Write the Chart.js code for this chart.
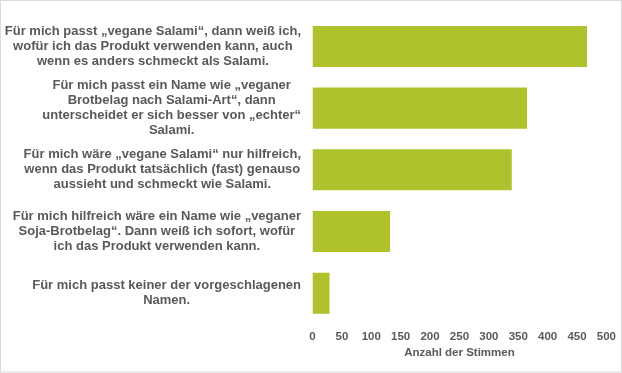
<!DOCTYPE html>
<html>
<head>
<meta charset="utf-8">
<script src="https://cdn.jsdelivr.net/npm/chart.js@4/dist/chart.umd.min.js"></script>
<style>
html,body{margin:0;padding:0;background:#fff;}
#wrap{width:622px;height:373px;position:relative;}
</style>
</head>
<body>
<div id="wrap"><canvas id="c" width="622" height="373"></canvas></div>
<script>
const categories = [
  ["Für mich passt „vegane Salami“, dann weiß ich,", "wofür ich das Produkt verwenden kann, auch", "wenn es anders schmeckt als Salami."],
  ["Für mich passt ein Name wie „veganer", "Brotbelag nach Salami-Art“, dann", "unterscheidet er sich besser von „echter“", "Salami."],
  ["Für mich wäre „vegane Salami“ nur hilfreich,", "wenn das Produkt tatsächlich (fast) genauso", "aussieht und schmeckt wie Salami."],
  ["Für mich hilfreich wäre ein Name wie „veganer", "Soja-Brotbelag“. Dann weiß ich sofort, wofür", "ich das Produkt verwenden kann."],
  ["Für mich passt keiner der vorgeschlagenen", "Namen."]
];
const votes = [467, 365, 339, 132, 29];
const xTicks = [0, 50, 100, 150, 200, 250, 300, 350, 400, 450, 500];
const axisTitle = "Anzahl der Stimmen";

const textColor = "#595959";
const barColor = "#afc22e";

const labelPlugin = {
  id: 'centeredLabels',
  afterDraw(chart) {
    const ctx = chart.ctx;
    const y = chart.scales.y;
    ctx.save();
    ctx.font = 'bold 13px "Liberation Sans", Arial, sans-serif';
    ctx.fillStyle = textColor;
    ctx.textAlign = 'center';
    ctx.textBaseline = 'middle';
    const rightEdge = 301;
    const lh = 14.9;
    categories.forEach((lines, i) => {
      const cy = y.getPixelForTick(i);
      const widest = Math.max(...lines.map(l => ctx.measureText(l).width));
      const cx = rightEdge - widest / 2;
      lines.forEach((l, j) => {
        ctx.fillText(l, cx, cy + (j - (lines.length - 1) / 2) * lh);
      });
    });
    ctx.restore();
  }
};

const borderPlugin = {
  id: 'frame',
  afterDraw(chart) {
    const ctx = chart.ctx;
    ctx.save();
    ctx.strokeStyle = '#d9d9d9';
    ctx.lineWidth = 1;
    ctx.strokeRect(0.5, 0.5, chart.width - 1, chart.height - 1.5);
    ctx.restore();
  }
};

new Chart(document.getElementById('c'), {
  type: 'bar',
  data: {
    labels: categories,
    datasets: [{
      data: votes,
      backgroundColor: barColor,
      borderWidth: 0,
      categoryPercentage: 1,
      barPercentage: 0.665
    }]
  },
  options: {
    indexAxis: 'y',
    responsive: false,
    animation: false,
    devicePixelRatio: 1,
    layout: { padding: { top: 15.6, right: 15, bottom: 0, left: 0 } },
    plugins: { legend: { display: false }, tooltip: { enabled: false } },
    scales: {
      x: {
        type: 'linear',
        min: 0,
        max: 500,
        afterBuildTicks(s) { s.ticks = xTicks.map(v => ({ value: v })); },
        afterFit(s) { s.height = 49; },
        grid: { display: false, drawTicks: false },
        border: { display: false },
        ticks: {
          padding: 6,
          color: textColor,
          font: { family: '"Liberation Sans", Arial, sans-serif', size: 11.5, weight: 'bold' },
          maxRotation: 0
        },
        title: {
          display: true,
          text: axisTitle,
          color: textColor,
          font: { family: '"Liberation Sans", Arial, sans-serif', size: 11.5, weight: 'bold' },
          padding: { top: 0, bottom: 13.4 }
        }
      },
      y: {
        type: 'category',
        offset: true,
        afterFit(s) { s.width = 312.5; },
        grid: { display: false, drawTicks: false },
        border: { display: false },
        ticks: { display: false }
      }
    }
  },
  plugins: [labelPlugin, borderPlugin]
});
</script>
</body>
</html>
